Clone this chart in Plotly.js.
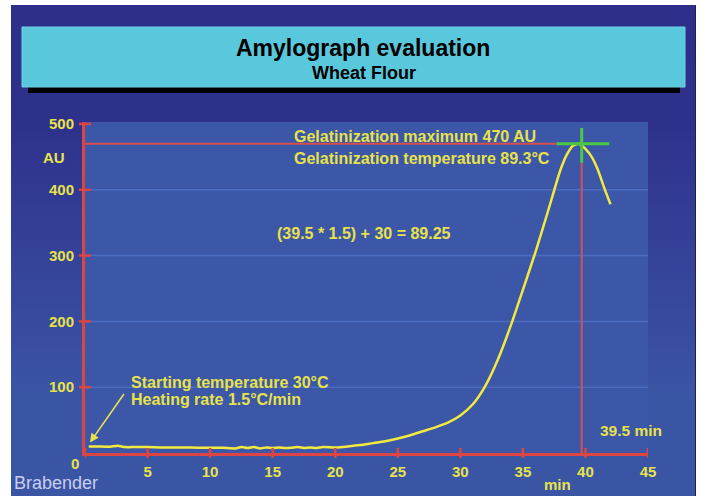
<!DOCTYPE html>
<html><head><meta charset="utf-8">
<script src="https://cdn.plot.ly/plotly-3.0.1.min.js"></script>
<style>
html,body{margin:0;padding:0;background:#fff;width:701px;height:496px;overflow:hidden}
#bg{position:absolute;left:11px;top:5px;width:684px;height:491px;background:linear-gradient(to bottom,#2d2f8a 0%,#2e318c 24%,#3b55a5 80%,#3b55a5 100%);border-right:1px solid #1d1f55}
#chart{position:absolute;left:0;top:0;width:701px;height:496px}
</style></head><body><div id="bg"></div><div id="chart"></div>
<script>
// Data
const timeMin = [0.3, 1, 2, 2.6, 3.2, 4, 5, 6, 7, 8, 9, 10, 11, 12, 12.5, 13, 13.5, 14, 14.5, 15, 15.5, 16, 16.5, 17, 17.5, 18, 18.5, 19, 20, 21, 22, 23, 24, 25, 26, 27, 28, 29, 30, 31, 32, 33, 34, 35, 36, 37, 38, 38.5, 39, 39.5, 40, 40.5, 41, 41.5, 42];
const viscosityAU = [10, 10, 9.5, 11, 9, 9, 9, 8.5, 8.5, 8.5, 8, 8, 8, 7, 9, 7.5, 9, 7, 8.5, 7.5, 8.5, 7.5, 8, 9, 7.5, 8.5, 7.5, 9, 8.5, 10, 12, 15, 18, 22, 27, 33, 39, 46, 57, 74, 102, 142, 192, 248, 305, 367, 430, 453, 467, 470, 462, 450, 430, 403, 378];
const xTickVals = [0, 5, 10, 15, 20, 25, 30, 35, 40, 45];
const xTickLabels = ['', '5', '10', '15', '20', '25', '30', '35', '40', '45'];
const yTickVals = [100, 200, 300, 400, 500];
const yTickLabels = ['100', '200', '300', '400', '500'];
const gridVals = [100, 200, 300, 400];
const gelMaxAU = 470;
const gelMarkTime = 39.7;      // where the vertical marker sits in the picture
const crossX = [37.7, 41.9];
const crossY = [441, 494];

const W = 701, H = 496, ML = 85, MR = 53, MT = 122, MB = 43;
const PW = W - ML - MR, PH = H - MT - MB;
const px = p => (p - ML) / PW;
const py = p => (H - MB - p) / PH;

const yellow = '#e8e24a';
const red = '#dd4444';
const green = '#4cc844';
const FONT = 'Arial, "Liberation Sans", sans-serif';

const shapes = [];
// title box shadow + box
shapes.push({type:'rect', xref:'paper', yref:'paper', x0:px(28), x1:px(680), y0:py(93), y1:py(33), fillcolor:'#000', line:{width:0}, layer:'below'});
shapes.push({type:'rect', xref:'paper', yref:'paper', x0:px(22), x1:px(685), y0:py(87), y1:py(27), fillcolor:'#5ac8dc', line:{color:'#6fd4e4', width:1}, layer:'below'});
// grid
gridVals.forEach(v => shapes.push({type:'line', xref:'paper', yref:'y', x0:0, x1:1, y0:v, y1:v, line:{color:'#4b6cc0', width:1.5}, layer:'below'}));
// crossing ticks
xTickVals.forEach(v => shapes.push({type:'line', xref:'x', yref:'paper', ysizemode:'pixel', yanchor:0, x0:v, x1:v, y0:-5, y1:5, line:{color:red, width:2.5}}));
yTickVals.forEach(v => shapes.push({type:'line', xref:'paper', yref:'y', xsizemode:'pixel', xanchor:0, y0:v, y1:v, x0:-6, x1:6, line:{color:red, width:2.5}}));
// gelatinization maximum lines
shapes.push({type:'line', xref:'x', yref:'y', x0:0, x1:crossX[0], y0:gelMaxAU, y1:gelMaxAU, line:{color:'#d65050', width:2}});
shapes.push({type:'line', xref:'x', yref:'y', x0:gelMarkTime, x1:gelMarkTime, y0:0, y1:crossY[0], line:{color:'#d65050', width:2}});
shapes.push({type:'line', xref:'x', yref:'y', x0:crossX[0], x1:crossX[1], y0:gelMaxAU, y1:gelMaxAU, line:{color:green, width:3}});
shapes.push({type:'line', xref:'x', yref:'y', x0:gelMarkTime, x1:gelMarkTime, y0:crossY[0], y1:crossY[1], line:{color:green, width:3}});

const tf = (size, color, weight) => ({family: FONT, size: size, color: color || yellow, weight: weight || 'bold'});
const ann = (text, x, y, size, opts) => Object.assign({text: text, xref:'paper', yref:'paper', x: px(x), y: py(y), showarrow:false, font: tf(size), xanchor:'left', yanchor:'middle'}, opts || {});

const annotations = [
  ann('Amylograph evaluation', 363, 48, 23, {xanchor:'center', font: tf(23, '#000')}),
  ann('Wheat Flour', 364, 73, 18, {xanchor:'center', font: tf(18, '#000')}),
  ann('Gelatinization maximum 470 AU', 292, 136, 16),
  ann('Gelatinization temperature 89.3°C', 292, 158, 16),
  ann('(39.5 * 1.5) + 30 = 89.25', 275, 233, 16),
  ann('Starting temperature 30°C', 129, 382, 16),
  ann('Heating rate 1.5°C/min', 129, 399, 16),
  ann('39.5 min', 631, 430, 15.5, {xanchor:'center'}),
  ann('AU', 54, 157, 15, {xanchor:'center'}),
  ann('min', 557, 484, 15, {xanchor:'center'}),
  ann('0', 75, 463, 15, {xanchor:'center'}),
  ann('Brabender', 12, 483, 18, {font: tf(18, '#c9cdea', 'normal')}),
  {text:'', x:0.4, y:16, xref:'x', yref:'y', showarrow:true, ax:35, ay:-50, arrowcolor:yellow, arrowwidth:1.6, arrowhead:2, arrowsize:1.1, standoff:0, startstandoff:0}
];

const trace = {x: timeMin, y: viscosityAU, type:'scatter', mode:'lines', line:{color:'#f2ea3e', width:2.5, shape:'spline', smoothing:0.6}, hoverinfo:'skip'};

const layout = {
  width: W, height: H,
  margin: {l: ML, r: MR, t: MT, b: MB, pad: 0},
  paper_bgcolor: 'rgba(0,0,0,0)',
  plot_bgcolor: '#3c57a8',
  showlegend: false,
  xaxis: {range:[0,45], showgrid:false, zeroline:false, showline:true, linecolor:red, linewidth:3,
          tickmode:'array', tickvals:xTickVals, ticktext:xTickLabels, ticks:'', ticklabelstandoff:3,
          tickfont: tf(15)},
  yaxis: {range:[0,503], showgrid:false, zeroline:false, showline:true, linecolor:red, linewidth:3,
          tickmode:'array', tickvals:yTickVals, ticktext:yTickLabels, ticks:'', ticklabelstandoff:5,
          tickfont: tf(15)},
  shapes: shapes,
  annotations: annotations
};
Plotly.newPlot('chart', [trace], layout, {displayModeBar:false, staticPlot:true});
</script></body></html>
